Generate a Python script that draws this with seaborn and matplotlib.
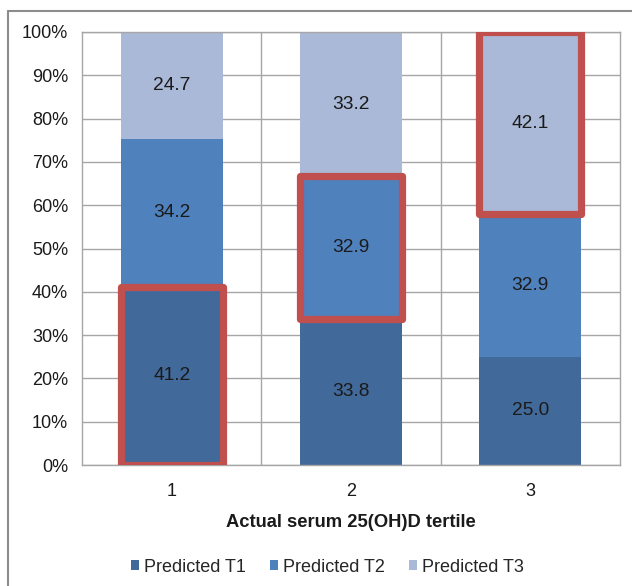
import matplotlib
matplotlib.use("Agg")
import matplotlib.pyplot as plt
from matplotlib.patches import Rectangle, Patch
from matplotlib.lines import Line2D
import numpy as np
import pandas as pd
import seaborn as sns

# Share (%) of each predicted tertile within each actual tertile
tertiles = ["1", "2", "3"]
predicted_t1 = [41.2, 33.8, 25.0]
predicted_t2 = [34.2, 32.9, 32.9]
predicted_t3 = [24.7, 33.2, 42.1]
series_names = ["Predicted T1", "Predicted T2", "Predicted T3"]
y_ticks = [0, 10, 20, 30, 40, 50, 60, 70, 80, 90, 100]
x_title = "Actual serum 25(OH)D tertile"

# Segment that corresponds to correct classification in each column
highlight = [0, 1, 2]

colors = ["#41699A", "#4F81BD", "#AAB9D7"]
red = "#C0504D"
grid_c = "#A6A6A6"

sns.set_theme(style="white")
plt.rcParams["font.family"] = ["Liberation Sans", "DejaVu Sans"]

fig = plt.figure(figsize=(6.32, 5.86), dpi=100)
ax = fig.add_axes([82 / 632, 1 - 465 / 586, (620 - 82) / 632, (465 - 32) / 586])

series = [predicted_t1, predicted_t2, predicted_t3]
cum = np.cumsum(np.array(series), axis=0)
bottoms = np.vstack([np.zeros(len(tertiles)), cum[:-1]])
bar_w = 0.57

# Layered stacking: draw cumulative totals from the top series down
for i in range(len(series) - 1, -1, -1):
    df = pd.DataFrame({"tertile": tertiles, "value": cum[i]})
    sns.barplot(data=df, x="tertile", y="value", color=colors[i],
                saturation=1, width=bar_w, ax=ax, zorder=2,
                edgecolor="none", linewidth=0)

ax.set_ylim(0, 100)
ax.set_xlim(-0.5, len(tertiles) - 0.5)

# Gridlines
for t in y_ticks:
    ax.axhline(t, color=grid_c, lw=1, zorder=1)
for xs in np.arange(0.5, len(tertiles) - 0.5, 1):
    ax.axvline(xs, color=grid_c, lw=1, zorder=1)

# Value labels centred in each segment
for i, vals in enumerate(series):
    for j, v in enumerate(vals):
        ax.text(j, bottoms[i][j] + v / 2, f"{v:.1f}", ha="center",
                va="center", fontsize=13.8, color="#1a1a1a", zorder=4)

# Red outlines around the highlighted segments
for j, i in enumerate(highlight):
    rect = Rectangle((j - bar_w / 2, bottoms[i][j]), bar_w, series[i][j],
                     fill=False, edgecolor=red, lw=5.2, zorder=5,
                     joinstyle="round")
    ax.add_patch(rect)

ax.set_yticks(y_ticks)
ax.set_yticklabels([f"{t}%" for t in y_ticks])
ax.tick_params(axis="both", length=0, labelsize=13, colors="#1a1a1a")
ax.tick_params(axis="y", pad=10)
ax.tick_params(axis="x", pad=13)
ax.set_xlabel(x_title, fontsize=13.2, fontweight="bold", labelpad=10,
              color="#1a1a1a")
ax.set_ylabel("")
for s in ax.spines.values():
    s.set_color(grid_c)
    s.set_linewidth(1)

handles = [Patch(facecolor=c, edgecolor="none") for c in colors]
fig.legend(handles, series_names, loc="center", ncol=3,
           bbox_to_anchor=(327.5 / 632, 1 - 567 / 586), frameon=False,
           fontsize=13, handlelength=0.45, handleheight=0.45,
           handletextpad=0.3, columnspacing=1.3)

# Outer frame (top and left edges)
fig.add_artist(Line2D([7.5 / 632, 7.5 / 632], [0, 1 - 10.5 / 586],
                      color="#8C8C8C", lw=1.5, transform=fig.transFigure))
fig.add_artist(Line2D([7.5 / 632, 1], [1 - 10.5 / 586, 1 - 10.5 / 586],
                      color="#8C8C8C", lw=1.5, transform=fig.transFigure))

fig.savefig("out.png", dpi=100)
